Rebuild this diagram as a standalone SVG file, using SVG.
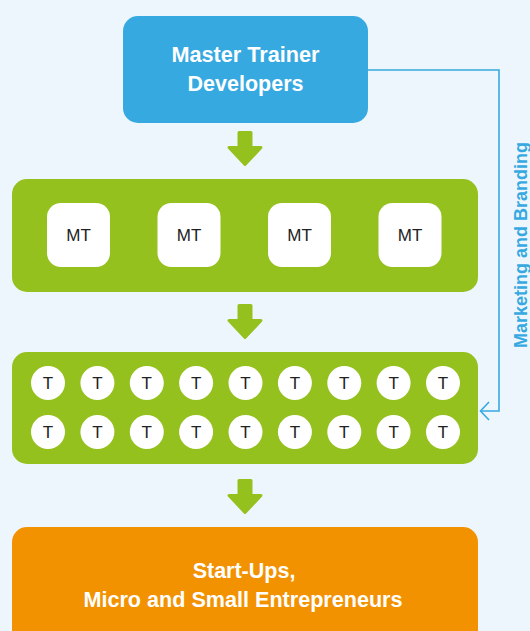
<svg xmlns="http://www.w3.org/2000/svg" xmlns:xlink="http://www.w3.org/1999/xlink" width="530" height="631" viewBox="0 0 530 631">
  <style>
    .title { font-family: "Liberation Sans", Arial, sans-serif; font-weight: bold; font-size: 21.5px; fill: #ffffff; text-anchor: middle; }
    .panel { fill: #95C11F; }
    .mt-box { fill: #ffffff; }
    .t-dot { fill: #ffffff; }
    .lbl { font-family: "Liberation Sans", Arial, sans-serif; font-size: 17px; fill: #222222; text-anchor: middle; dominant-baseline: central; }
    .flow { fill: #95C11F; stroke: #95C11F; stroke-width: 3; stroke-linejoin: round; }
    .link { fill: none; stroke: #36A9E1; stroke-width: 1.6; }
    .side { font-family: "Liberation Sans", Arial, sans-serif; font-weight: bold; font-size: 18px; fill: #36A9E1; text-anchor: middle; }
  </style>
  <defs>
    <path id="down-arrow" class="flow" d="M-6,1.5 h12 v15 h10 l-16,17 l-16,-17 h10 z"/>
    <g id="mt">
      <rect class="mt-box" x="-31.5" y="-32" width="63" height="64" rx="14"/>
      <text class="lbl" x="0" y="0">MT</text>
    </g>
    <g id="t">
      <circle class="t-dot" cx="0" cy="0" r="17"/>
      <text class="lbl" x="0" y="0">T</text>
    </g>
  </defs>

  <!-- background -->
  <rect x="0" y="0" width="530" height="631" fill="#EEF6FD"/>

  <!-- connectors -->
  <g id="connectors">
    <use xlink:href="#down-arrow" transform="translate(245,131)"/>
    <use xlink:href="#down-arrow" transform="translate(245,304)"/>
    <use xlink:href="#down-arrow" transform="translate(245,479)"/>
    <polyline class="link" points="368,70 499,70 499,411 481,411"/>
    <polyline class="link" points="489,402 480.5,411 489,420"/>
    <text class="side" transform="translate(527,245) rotate(-90)">Marketing and Branding</text>
  </g>

  <!-- master trainer developers -->
  <g id="developers">
    <rect x="123" y="16" width="245" height="107" rx="15" fill="#36A9E1"/>
    <text class="title" x="245.5" y="62" textLength="148" lengthAdjust="spacingAndGlyphs">Master Trainer</text>
    <text class="title" x="245.5" y="91">Developers</text>
  </g>

  <!-- master trainers -->
  <g id="master-trainers">
    <rect class="panel" x="12" y="179" width="466" height="113" rx="15"/>
    <use xlink:href="#mt" x="78.5" y="235"/>
    <use xlink:href="#mt" x="189" y="235"/>
    <use xlink:href="#mt" x="299.5" y="235"/>
    <use xlink:href="#mt" x="410" y="235"/>
  </g>

  <!-- trainers -->
  <g id="trainers">
    <rect class="panel" x="12" y="352" width="466" height="112" rx="15"/>
    <use xlink:href="#t" x="48" y="383"/>
    <use xlink:href="#t" x="97.4" y="383"/>
    <use xlink:href="#t" x="146.8" y="383"/>
    <use xlink:href="#t" x="196.1" y="383"/>
    <use xlink:href="#t" x="245.5" y="383"/>
    <use xlink:href="#t" x="294.9" y="383"/>
    <use xlink:href="#t" x="344.3" y="383"/>
    <use xlink:href="#t" x="393.6" y="383"/>
    <use xlink:href="#t" x="443" y="383"/>
    <use xlink:href="#t" x="48" y="432"/>
    <use xlink:href="#t" x="97.4" y="432"/>
    <use xlink:href="#t" x="146.8" y="432"/>
    <use xlink:href="#t" x="196.1" y="432"/>
    <use xlink:href="#t" x="245.5" y="432"/>
    <use xlink:href="#t" x="294.9" y="432"/>
    <use xlink:href="#t" x="344.3" y="432"/>
    <use xlink:href="#t" x="393.6" y="432"/>
    <use xlink:href="#t" x="443" y="432"/>
  </g>

  <!-- entrepreneurs -->
  <g id="entrepreneurs">
    <rect x="12" y="527" width="466" height="130" rx="15" fill="#F39200"/>
    <text class="title" x="244" y="578">Start-Ups,</text>
    <text class="title" x="243" y="607" textLength="319" lengthAdjust="spacingAndGlyphs">Micro and Small Entrepreneurs</text>
  </g>
</svg>
